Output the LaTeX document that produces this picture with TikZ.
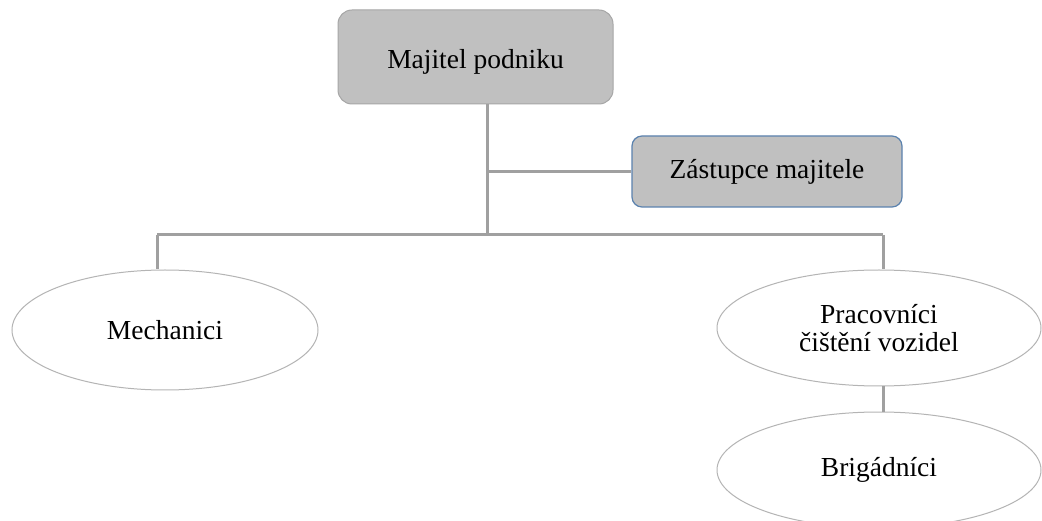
\documentclass[tikz,border=0pt]{standalone}
\usepackage{fontspec}
\setmainfont{Liberation Serif}
\usetikzlibrary{shapes.geometric}
\definecolor{boxfill}{HTML}{C0C0C0}
\definecolor{boxline}{HTML}{A6A6A6}
\definecolor{blueline}{HTML}{5B82AE}
\definecolor{linkgray}{HTML}{A0A0A0}
\definecolor{ovalline}{HTML}{B4B4B4}
\tikzset{
  labelfont/.style={font=\fontsize{27.5}{28}\selectfont},
  headbox/.style={draw=boxline, fill=boxfill, rounded corners=14pt, line width=1pt,
    minimum width=275pt, minimum height=94pt, labelfont, inner sep=0pt},
  deputybox/.style={draw=blueline, fill=boxfill, rounded corners=10pt, line width=1.2pt,
    minimum width=270pt, minimum height=71pt, labelfont, inner sep=0pt},
  staff/.style={ellipse, draw=ovalline, fill=white, line width=1pt,
    minimum width=306pt, minimum height=120pt, inner sep=0pt,
    labelfont, align=center},
  link/.style={draw=linkgray, line width=3pt}
}
\begin{document}
\begin{tikzpicture}[x=1pt, y=-1pt]
\useasboundingbox (0,0) rectangle (1042,521);
\fill[white] (0,0) rectangle (1042,521);
% junction points of the tree lines
\coordinate (trunk) at (487,235);
\coordinate (leftend) at (157,235);
\coordinate (rightend) at (883,235);
% a tall strut sets the owner's label a little below the box centre
\node[headbox] (owner) at (475.5,57) {\rule{0pt}{28pt}Majitel podniku};
\node[deputybox] (deputy) at (767,171.5) {Zástupce majitele};
\coordinate (tee) at (deputy.west -| trunk);
\node[staff] (mech) at (165,330) {Mechanici};
\node[staff, minimum width=324pt, minimum height=116pt] (clean) at (879,328) {Pracovníci\\čištění vozidel};
\node[staff, minimum width=324pt, minimum height=116pt] (temp) at (879,470) {Brigádníci};
\draw[link] (owner.south -| trunk) -- (trunk);
\draw[link] (tee) -- (deputy.west);
\draw[link] (leftend) -- (rightend);
\draw[link] (leftend) -- (mech.north -| leftend);
\draw[link] (rightend) -- (clean.north -| rightend);
\draw[link] (clean.south -| rightend) -- (temp.north -| rightend);
\end{tikzpicture}
\end{document}
